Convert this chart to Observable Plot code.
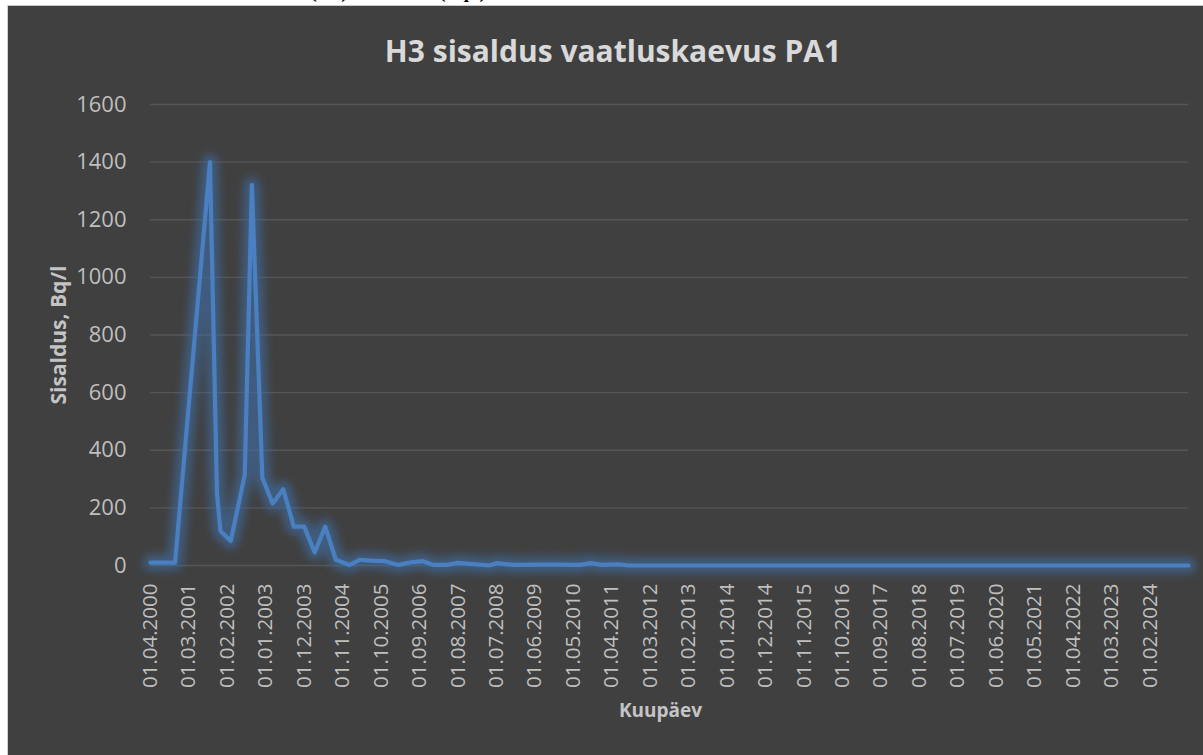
<!DOCTYPE html>
<html><head><meta charset="utf-8">
<script src="https://cdn.jsdelivr.net/npm/d3@7"></script>
<script src="https://cdn.jsdelivr.net/npm/@observablehq/plot@0.6"></script>
<style>
html,body{margin:0;padding:0;background:#fff;width:1203px;height:755px;overflow:hidden;position:relative;}
#cap{position:absolute;left:10px;top:-18px;font:bold 19px "Liberation Serif","Times New Roman",serif;color:#000;white-space:nowrap;line-height:19px;}
#box{position:absolute;left:7px;top:5px;width:1196px;height:750px;background:#404040;border-left:1px solid #d0d0d0;border-top:1px solid #c8c8c8;box-sizing:border-box;overflow:hidden;}
#title{height:79px;box-sizing:border-box;padding-top:30px;padding-left:15px;text-align:center;font:bold 30px "Open Sans",sans-serif;line-height:30px;color:#d9d9d9;}
#chart svg{display:block;}
</style>
</head><body>
<div id="cap">Joonis 5. Vaatluskaevu PA1 triitiumi (H3) sisaldused (Bq/l)</div>
<div id="box">
  <div id="title">H3 sisaldus vaatluskaevus PA1</div>
  <div id="chart"></div>
</div>
<script>
// Sampling months (YYYY-MM) and tritium content, Bq/l
const months = ["2000-04","2000-07","2000-11","2001-09","2001-11","2001-12","2002-03","2002-07","2002-09","2002-12",
  "2003-03","2003-06","2003-09","2003-12","2004-03","2004-06","2004-09","2005-01","2005-04","2005-07",
  "2005-11","2006-03","2006-07","2006-10","2007-01","2007-05","2007-08","2008-05","2008-07","2008-12",
  "2009-10","2010-07","2010-10","2011-01","2011-06","2011-09","2025-01"];
const values = [10,10,10,1400,250,120,85,315,1320,305,
  215,265,135,135,45,135,20,2,20,17,
  15,2,12,15,2,2,9,0,8,2,
  3,2,8,2,4,0,0];
const xTickLabels = ["01.04.2000","01.03.2001","01.02.2002","01.01.2003","01.12.2003","01.11.2004","01.10.2005",
  "01.09.2006","01.08.2007","01.07.2008","01.06.2009","01.05.2010","01.04.2011","01.03.2012","01.02.2013",
  "01.01.2014","01.12.2014","01.11.2015","01.10.2016","01.09.2017","01.08.2018","01.07.2019","01.06.2020",
  "01.05.2021","01.04.2022","01.03.2023","01.02.2024"];
const yTicks = [0,200,400,600,800,1000,1200,1400,1600];
const yLabel = "Sisaldus, Bq/l";
const xLabel = "Kuupäev";

const parseMonth = d3.utcParse("%Y-%m");
const parseTick = d3.utcParse("%d.%m.%Y");
const data = months.map((m, i) => ({date: parseMonth(m), value: values[i]}));
const xTicks = xTickLabels.map(parseTick);
const fmt = d3.utcFormat("%d.%m.%Y");
const lineColor = "#4a7fc1";

const plot = Plot.plot({
  width: 1195, height: 670,
  marginLeft: 142, marginRight: 15, marginTop: 19, marginBottom: 190,
  style: {background: "transparent", color: "#bfbfbf", fontFamily: "'Open Sans', sans-serif", fontSize: "22px"},
  x: {type: "utc", domain: d3.extent(data, d => d.date)},
  y: {domain: [0, 1600]},
  marks: [
    Plot.gridY(yTicks, {stroke: "#565656", strokeOpacity: 1, strokeWidth: 1.3}),
    Plot.axisY(yTicks, {tickSize: 0, tickPadding: 24, tickFormat: d3.format("d"), label: null, fill: "#bfbfbf"}),
    Plot.axisX(xTicks, {tickSize: 0, tickPadding: 18, tickRotate: -90, tickFormat: fmt, label: null, fill: "#bfbfbf", fontSize: 20.5}),
    Plot.line(data, {x: "date", y: "value", stroke: "#3f6fa8", strokeWidth: 16, strokeOpacity: 0.6, imageFilter: "blur(4px)"}),
    Plot.line(data, {x: "date", y: "value", stroke: lineColor, strokeWidth: 4.2}),
    Plot.text([yLabel], {text: d => d, frameAnchor: "left", textAnchor: "middle", dx: -91, rotate: -90, fontWeight: "bold", fontSize: 21, fill: "#c4c4c4"}),
    Plot.text([xLabel], {text: d => d, frameAnchor: "bottom", textAnchor: "middle", dx: -9, dy: 151, fontWeight: "bold", fontSize: 19, fill: "#c4c4c4"})
  ]
});
document.getElementById("chart").appendChild(plot);
</script>
</body></html>
